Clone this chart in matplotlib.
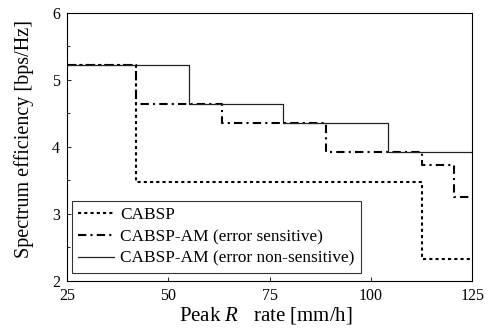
import matplotlib
matplotlib.use("Agg")
import matplotlib.pyplot as plt
from matplotlib.ticker import MultipleLocator

plt.rcParams["font.family"] = ["Liberation Serif", "DejaVu Serif"]
plt.rcParams["mathtext.fontset"] = "custom"
plt.rcParams["mathtext.it"] = "Liberation Serif:italic"
plt.rcParams["mathtext.rm"] = "Liberation Serif"

# step edges (peak rain rate, mm/h) and spectrum efficiency after each edge
cabsp_x = [25, 42, 112.6, 125]
cabsp_y = [5.22, 3.47, 2.33, 2.33]

sens_x = [25, 42, 63.3, 89, 112.6, 120.5, 125]
sens_y = [5.22, 4.64, 4.36, 3.92, 3.72, 3.25, 3.25]

nonsens_x = [25, 55, 78.2, 104.3, 125]
nonsens_y = [5.22, 4.64, 4.36, 3.92, 3.92]

fig = plt.figure(figsize=(4.92, 3.31), dpi=100)
ax = fig.add_axes([0.136, 0.152, 0.824, 0.810])

ax.plot(cabsp_x, cabsp_y, drawstyle="steps-post", color="black",
        linewidth=1.5, linestyle=(0, (1.5, 1.5)), label="CABSP")
ax.plot(sens_x, sens_y, drawstyle="steps-post", color="black",
        linewidth=1.5, linestyle=(0, (4, 2, 1, 2)), label="CABSP-AM (error sensitive)")
ax.plot(nonsens_x, nonsens_y, drawstyle="steps-post", color="#222222",
        linewidth=0.9, label="CABSP-AM (error non-sensitive)")

ax.set_xlim(25, 125)
ax.set_ylim(2, 6)
ax.xaxis.set_major_locator(MultipleLocator(25))
ax.yaxis.set_major_locator(MultipleLocator(1))
ax.yaxis.set_minor_locator(MultipleLocator(0.5))
ax.tick_params(direction="in", labelsize=11.5, length=3, width=0.6, pad=5)
ax.tick_params(which="minor", direction="in", length=2, width=0.6)
for s in ax.spines.values():
    s.set_linewidth(0.8)

ax.set_xlabel("Peak $R$   rate [mm/h]", fontsize=15)
ax.set_ylabel("Spectrum efficiency [bps/Hz]", fontsize=14.5)
ax.xaxis.set_label_coords(0.49, -0.09)
ax.yaxis.set_label_coords(-0.08, 0.53)

leg = ax.legend(loc="lower left", bbox_to_anchor=(0.013, 0.03), borderaxespad=0,
                fontsize=12.4, frameon=True, fancybox=False, edgecolor="black",
                handlelength=2.1, handletextpad=0.35, borderpad=0.35,
                labelspacing=0.32)
leg.get_frame().set_linewidth(0.8)

fig.savefig("out.png", dpi=100)
